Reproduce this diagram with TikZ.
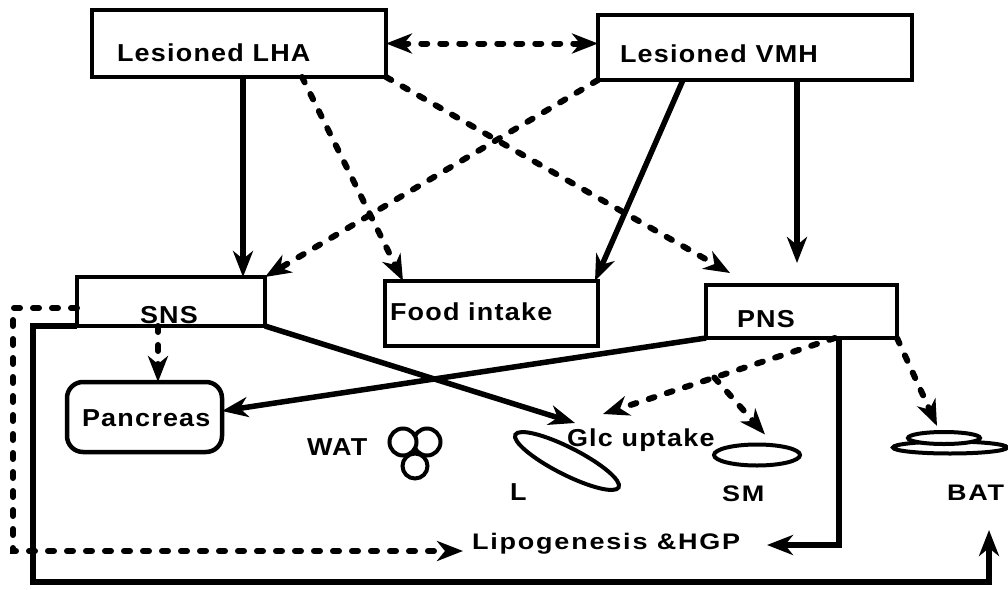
\documentclass[tikz,border=0pt]{standalone}
\usepackage{fontspec}
\usetikzlibrary{arrows.meta,shapes.geometric,calc}
\newfontfamily\lblfont{Liberation Sans Bold}[FakeStretch=1.1,LetterSpace=5]
\newfontfamily\wdfont{Liberation Sans Bold}[FakeStretch=1.2,LetterSpace=8]
\begin{document}
\begin{tikzpicture}[x=1pt,y=-1pt,
  >={Stealth[length=26pt,width=20pt,inset=8pt]},
  box/.style={draw,line width=4.5pt,outer sep=0pt,inner sep=0pt},
  shp/.style={draw,line width=4pt,outer sep=0pt,inner sep=0pt,fill=white},
  sol/.style={line width=5.5pt,->},
  dsh/.style={line width=6pt,dash pattern=on 6pt off 13pt,line cap=round,->},
  txt/.style={anchor=base west,inner sep=0pt,outer sep=0pt,font=\lblfont\fontsize{24.5}{26}\selectfont},
  wtxt/.style={anchor=base west,inner sep=0pt,outer sep=0pt,font=\wdfont\fontsize{22.5}{24}\selectfont}]
\useasboundingbox (0,0) rectangle (1008,589);
% boxes
\node[box,minimum width=294pt,minimum height=67pt] (lha) at (239,43.5) {};
\node[box,minimum width=314pt,minimum height=65pt] (vmh) at (755,47.5) {};
\node[box,minimum width=188pt,minimum height=49pt] (sns) at (171,301.5) {};
\node[box,minimum width=213pt,minimum height=65pt] (food) at (491.5,313.5) {};
\node[box,minimum width=191pt,minimum height=53pt] (pns) at (801.5,311.5) {};
\node[box,rounded corners=16pt,minimum width=155pt,minimum height=70pt] (pan) at (144.5,417) {};
% organ shapes
\node[shp,circle,minimum size=25pt] (wat3) at (415,466) {};
\node[shp,circle,minimum size=27pt] (wat2) at (427,442) {};
\node[shp,circle,minimum size=27pt] (wat1) at (403,442) {};
\node[shp,ellipse,minimum width=116pt,minimum height=27pt,rotate=-27] (liv) at (567,461) {};
\node[shp,ellipse,minimum width=86pt,minimum height=21pt] (smE) at (757,455) {};
\node[shp,ellipse,minimum width=114pt,minimum height=12pt] (bat2) at (950,447.5) {};
\node[shp,ellipse,minimum width=72pt,minimum height=12pt] (bat1) at (944,438) {};
% texts
\node[txt] (lhaT) at (117,61) {Lesioned LHA};
\node[txt] (vmhT) at (620,62) {Lesioned VMH};
\node[txt] (snsT) at (140,323) {SNS};
\node[txt] (foodT) at (390,320) {Food intake};
\node[txt] (pnsT) at (737,327) {PNS};
\node[txt] (panT) at (82,426) {Pancreas};
\node[txt] (watT) at (307,455) {WAT};
\node[txt] (glc) at (567,446) {Glc uptake};
\node[txt] (lT) at (510,500) {L};
\node[wtxt] (smT) at (722,501) {SM};
\node[wtxt] (batT) at (947,500) {BAT};
\node[wtxt] (lip) at (472,549) {Lipogenesis \&HGP};
% connectors from the top boxes
\draw[dsh,<->] (lha.east) -- (lha.east -| vmh.west);
\draw[sol] ([xshift=4pt]lha.south) -- ([xshift=72pt]sns.north);
\draw[dsh] ([xshift=-84pt]lha.south east) -- ([xshift=18pt]food.north west);
\draw[dsh] (lha.south east) -- ([xshift=24pt,yshift=12pt]pns.north west);
\draw[dsh] (vmh.south west) -- (sns.north east);
\draw[sol] ([xshift=85pt]vmh.south west) -- ([xshift=-3pt]food.north east);
\draw[sol] ([xshift=42pt]vmh.south) -- ([xshift=-4.5pt,yshift=22pt]pns.north);
% SNS connectors
\draw[dsh] ([xshift=-13pt]sns.south) -- ([xshift=13.5pt]pan.north);
\draw[sol] (sns.south east) -- ([xshift=8pt,yshift=23pt]glc.base west);
\draw[dsh] ([yshift=-6.5pt]sns.west) -- ++(-64,0) |- ([xshift=-9pt,yshift=-2pt]lip.base west);
\draw[sol] (sns.south west) -- ++(-44,0) -- ++(0,256) -| ([xshift=42pt,yshift=-30pt]batT.base west);
% PNS connectors
\draw[sol] (pns.south west) -- ([yshift=6pt]pan.east);
\coordinate (pg0) at ([xshift=-62pt]pns.south east);
\coordinate (pg1) at ([xshift=36pt,yshift=32pt]glc.base west);
\coordinate (br) at ($(pg0)!0.52!(pg1)$);
\draw[dsh] (pg0) -- (pg1);
\draw[dsh] (br) -- ([xshift=8pt,yshift=10pt]smE.north);
\draw[dsh] (pns.south east) -- ([xshift=-7pt,yshift=6pt]bat1.north);
\draw[sol] ([xshift=-58pt]pns.south east) |- ([xshift=295pt,yshift=4pt]lip.base west);
\end{tikzpicture}
\end{document}
